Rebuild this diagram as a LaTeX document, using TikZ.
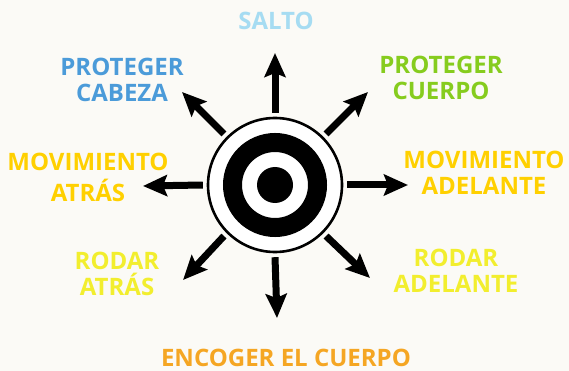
\documentclass[tikz,border=0pt]{standalone}
\usepackage{fontspec}
\setmainfont{Open Sans}
\usetikzlibrary{arrows.meta}
\definecolor{bgc}{HTML}{FBFAF6}
\definecolor{cSalto}{HTML}{A6DCF2}
\definecolor{cCabeza}{HTML}{4B9BD9}
\definecolor{cCuerpo}{HTML}{86CC1E}
\definecolor{cMov}{HTML}{FFD000}
\definecolor{cRodar}{HTML}{F2EE2E}
\definecolor{cEnc}{HTML}{F5A623}
\tikzset{
  lbl/.style={anchor=base, align=center, inner sep=0pt, font=\fontsize{24}{26}\selectfont\bfseries},
  arr/.style={line width=7pt, -{Stealth[length=24pt,width=21pt,inset=4pt]}},
}
\begin{document}
\begin{tikzpicture}[x=1pt,y=-1pt]
\fill[bgc] (0,0) rectangle (569,371);
\useasboundingbox (0,0) rectangle (569,371);
% target
\node[circle, minimum size=144pt, inner sep=0pt] (hub) at (275,185) {};
\draw[line width=2.6pt, fill=white] (hub.center) circle[radius=67pt];
\draw[line width=19pt] (hub.center) circle[radius=42.5pt];
\fill (hub.center) circle[radius=18pt];
% tips
\coordinate (tN)  at (275,53);
\coordinate (tNE) at (368,92);
\coordinate (tE)  at (408,185);
\coordinate (tSE) at (370,278);
\coordinate (tS)  at (277,318);
\coordinate (tSW) at (183,280);
\coordinate (tW)  at (143,186);
\coordinate (tNW) at (182,92);
\draw[arr] (hub.90)  -- (tN);
\draw[arr] (hub.45)  -- (tNE);
\draw[arr] (hub.0)   -- (tE);
\draw[arr] (hub.-45) -- (tSE);
\draw[arr] (hub.-90) -- (tS);
\draw[arr] (hub.-135) -- (tSW);
\draw[arr] (hub.180) -- (tW);
\draw[arr] (hub.135) -- (tNW);
% labels (anchor = baseline of last line)
\node[lbl, text=cSalto]  (salto)  at (276,30)  {SALTO};
\node[lbl, text=cCabeza] (cabeza) at (122,102) {PROTEGER\\CABEZA};
\node[lbl, text=cCuerpo] (cuerpo) at (441,100) {PROTEGER\\CUERPO};
\node[lbl, text=cMov, font=\fontsize{24}{31}\selectfont\bfseries] (movat) at (88,201) {MOVIMIENTO\\ATRÁS};
\node[lbl, text=cMov]    (movad)  at (484,195) {MOVIMIENTO\\ADELANTE};
\node[lbl, text=cRodar]  (rodat)  at (117,295) {RODAR\\ATRÁS};
\node[lbl, text=cRodar]  (rodad)  at (456,292) {RODAR\\ADELANTE};
\node[lbl, text=cEnc]    (enc)    at (286,366) {ENCOGER EL CUERPO};
\end{tikzpicture}
\end{document}
